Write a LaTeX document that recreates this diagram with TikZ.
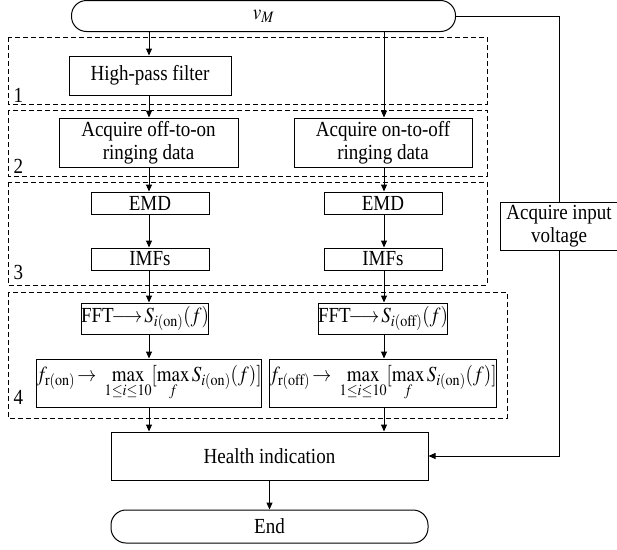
\documentclass[tikz,border=0pt]{standalone}
\usepackage{amsmath}
\usepackage{mathptmx}
\usepackage[no-math]{fontspec}
\setmainfont{Liberation Serif}[FakeStretch=0.885]
\usetikzlibrary{arrows.meta,calc,positioning}

\newcommand{\narrow}[1]{\scalebox{0.885}[1]{#1}}

\begin{document}
\begin{tikzpicture}[x=1pt,y=-1pt,
  font=\fontsize{21.5}{23}\selectfont,
  line width=1pt,
  box/.style={draw,rectangle,inner sep=0pt,align=center},
  term/.style={draw,rounded corners=15pt,inner sep=0pt,minimum height=31pt},
  stage/.style={draw,dash pattern=on 5pt off 3pt},
  arr/.style={-{Triangle[length=7pt,width=6pt]}}]
  \useasboundingbox (0,0) rectangle (617,549);

  % dashed stages
  \draw[stage] (8,37) rectangle (487,104);
  \draw[stage] (8,110) rectangle (487,176);
  \draw[stage] (8,182) rectangle (487,285);
  \draw[stage] (8,292) rectangle (507,418);
  \node[anchor=base west,inner sep=0pt] (n1) at (13,102) {1};
  \node[anchor=base west,inner sep=0pt] (n2) at (13,173) {2};
  \node[anchor=base west,inner sep=0pt] (n3) at (13,279) {3};
  \node[anchor=base west,inner sep=0pt] (n4) at (13,404) {4};

  \node[term,minimum width=384pt] (vM) at (263.5,16) {\narrow{$v_M$}};
  \node[box,minimum width=162pt,minimum height=39pt] (hpf) at (150,75.5) {High-pass filter};
  \node[box,minimum width=179pt,minimum height=49pt] (acqL) at (148.5,142.5) {Acquire off-to-on\\ringing data};
  \node[box,minimum width=178pt,minimum height=49pt] (acqR) at (383,142.5) {Acquire on-to-off\\ringing data};
  \node[box,minimum width=118pt,minimum height=22pt] (emdL) at (150,203) {EMD};
  \node[box,minimum width=118pt,minimum height=22pt] (emdR) at (383,203) {EMD};
  \node[box,minimum width=118pt,minimum height=22pt] (imfL) at (150,259) {IMFs};
  \node[box,minimum width=118pt,minimum height=22pt] (imfR) at (383,259) {IMFs};
  \node[box,minimum width=117pt,minimum height=31pt] (fftL) at (145,318.5)
    {FFT\narrow{$\!\longrightarrow\! S_{i(\mathrm{on})}(f)$}};
  \node[box,minimum width=128pt,minimum height=31pt] (fftR) at (383,318.5)
    {FFT\narrow{$\!\longrightarrow\! S_{i(\mathrm{off})}(f)$}};
  \node[box,minimum width=224pt,minimum height=48pt] (maxL) at (149,383)
    {\narrow{$f_{\mathrm{r(on)}}\!\rightarrow\ \max\limits_{1\le i\le 10}[\max\limits_{f} S_{i(\mathrm{on})}(f)]$}};
  \node[box,minimum width=224pt,minimum height=48pt] (maxR) at (383,383)
    {\narrow{$f_{\mathrm{r(off)}}\!\rightarrow\ \max\limits_{1\le i\le 10}[\max\limits_{f} S_{i(\mathrm{on})}(f)]$}};
  \node[box,minimum width=118pt,minimum height=48pt] (vin) at (559,226) {Acquire input\\voltage};
  \node[box,minimum width=317pt,minimum height=48pt] (hi) at (269.5,456) {Health indication};
  \node[term,minimum width=317pt,minimum height=33pt] (end) at (269.5,526.5) {End};

  \coordinate (cL) at (149,0);
  \coordinate (cR) at (384,0);

  \draw[arr] (vM.south -| cL) -- (hpf.north -| cL);
  \draw[arr] (vM.south -| cR) -- (acqR.north -| cR);
  \draw[arr] (hpf.south -| cL) -- (acqL.north -| cL);
  \draw[arr] (acqL.south -| cL) -- (emdL.north -| cL);
  \draw[arr] (acqR.south -| cR) -- (emdR.north -| cR);
  \draw[arr] (emdL.south -| cL) -- (imfL.north -| cL);
  \draw[arr] (emdR.south -| cR) -- (imfR.north -| cR);
  \draw[arr] (imfL.south -| cL) -- (fftL.north -| cL);
  \draw[arr] (imfR.south -| cR) -- (fftR.north -| cR);
  \draw[arr] (fftL.south -| cL) -- (maxL.north -| cL);
  \draw[arr] (fftR.south -| cR) -- (maxR.north -| cR);
  \draw[arr] (maxL.south -| cL) -- (hi.north -| cL);
  \draw[arr] (maxR.south -| cR) -- (hi.north -| cR);
  \draw[arr] (hi) -- (end);
  \draw (vM.east) -| (vin.north);
  \draw[arr] (vin.south) |- (hi.east);
\end{tikzpicture}
\end{document}
